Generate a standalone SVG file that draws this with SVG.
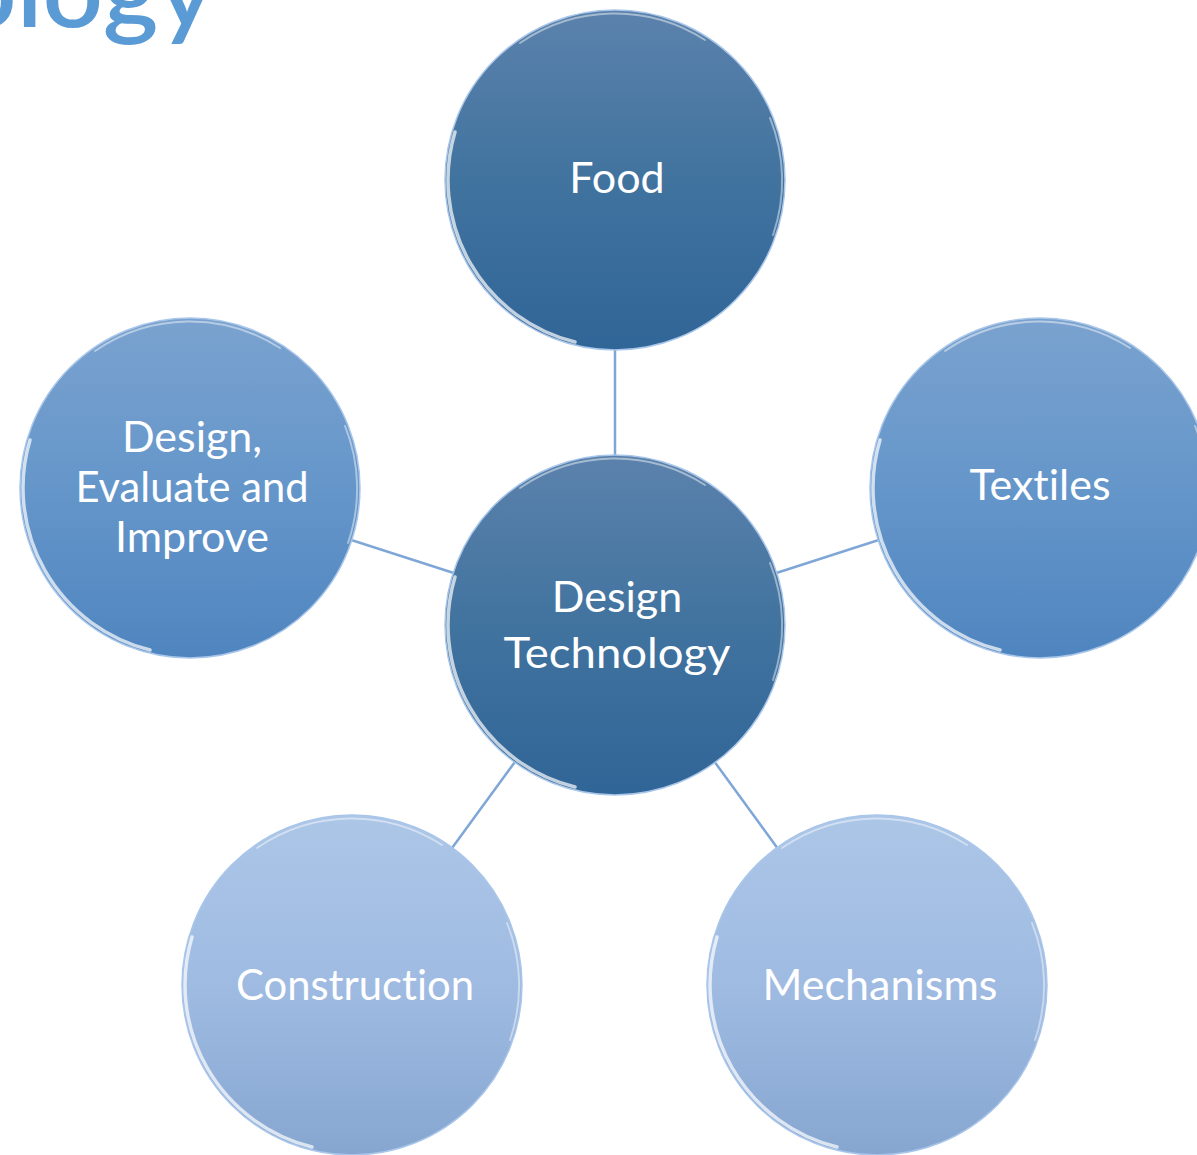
<svg xmlns="http://www.w3.org/2000/svg" width="1197" height="1155" viewBox="0 0 1197 1155">
<style>
.lbl{font-family:Lato,"Open Sans","Liberation Sans",sans-serif;font-size:43px;fill:#ffffff;text-anchor:middle;font-variant-ligatures:none}
.title{font-family:Lato,"Open Sans","Liberation Sans",sans-serif;font-size:100px;font-weight:600;fill:#5b9bd5}
.conn{stroke:#7ea6d6;stroke-width:2.5;fill:none}
.edge{fill:none;stroke:#a9c6ea;stroke-width:1.5}
.hl{fill:none;stroke:#ffffff;stroke-width:3.5;stroke-linecap:round;opacity:0.7}
.hl2{fill:none;stroke:#ffffff;stroke-width:2;stroke-linecap:round;opacity:0.45}
</style>
<defs>
<linearGradient id="gDark" x1="0" y1="0" x2="0" y2="1">
<stop offset="0" stop-color="#5b82ac"/>
<stop offset="0.5" stop-color="#41739f"/>
<stop offset="1" stop-color="#306597"/>
</linearGradient>
<linearGradient id="gMid" x1="0" y1="0" x2="0" y2="1">
<stop offset="0" stop-color="#7aa2cf"/>
<stop offset="0.5" stop-color="#6596ca"/>
<stop offset="1" stop-color="#4f85bf"/>
</linearGradient>
<linearGradient id="gLight" x1="0" y1="0" x2="0" y2="1">
<stop offset="0" stop-color="#acc6e7"/>
<stop offset="0.5" stop-color="#9fbbe2"/>
<stop offset="1" stop-color="#86a6d0"/>
</linearGradient>
<g id="rim">
<circle r="170" class="edge"/>
<path class="hl" d="M -40 162 A 167 167 0 0 1 -160 -48"/>
<path class="hl2" d="M -95 -137 A 167 167 0 0 1 90 -140"/>
<path class="hl2" d="M 155 -62 A 167 167 0 0 1 158 55"/>
</g>
</defs>
<rect width="1197" height="1155" fill="#ffffff"/>
<text class="title" x="-44" y="27" textLength="258" lengthAdjust="spacingAndGlyphs">ology</text>
<g id="connectors">
<line class="conn" x1="615" y1="625" x2="615" y2="180"/>
<line class="conn" x1="615" y1="625" x2="190" y2="488"/>
<line class="conn" x1="615" y1="625" x2="1040" y2="488"/>
<line class="conn" x1="615" y1="625" x2="352" y2="985"/>
<line class="conn" x1="615" y1="625" x2="877" y2="985"/>
</g>
<g id="node-food">
<circle cx="615" cy="180" r="170" fill="url(#gDark)"/>
<use href="#rim" x="615" y="180"/>
<text class="lbl" x="617" y="193">Food</text>
</g>
<g id="node-design-evaluate">
<circle cx="190" cy="488" r="170" fill="url(#gMid)"/>
<use href="#rim" x="190" y="488"/>
<text class="lbl" x="192" y="452">Design,</text>
<text class="lbl" x="192" y="502" textLength="233" lengthAdjust="spacingAndGlyphs">Evaluate and</text>
<text class="lbl" x="192" y="552">Improve</text>
</g>
<g id="node-textiles">
<circle cx="1040" cy="488" r="170" fill="url(#gMid)"/>
<use href="#rim" x="1040" y="488"/>
<text class="lbl" x="1040" y="500">Textiles</text>
</g>
<g id="node-construction">
<circle cx="352" cy="985" r="170" fill="url(#gLight)"/>
<use href="#rim" x="352" y="985"/>
<text class="lbl" x="355" y="1000" textLength="238" lengthAdjust="spacingAndGlyphs">Construction</text>
</g>
<g id="node-mechanisms">
<circle cx="877" cy="985" r="170" fill="url(#gLight)"/>
<use href="#rim" x="877" y="985"/>
<text class="lbl" x="880" y="1000">Mechanisms</text>
</g>
<g id="node-center">
<circle cx="615" cy="625" r="170" fill="url(#gDark)"/>
<use href="#rim" x="615" y="625"/>
<text class="lbl" x="617" y="612">Design</text>
<text class="lbl" x="617" y="668" textLength="227" lengthAdjust="spacingAndGlyphs">Technology</text>
</g>
</svg>
